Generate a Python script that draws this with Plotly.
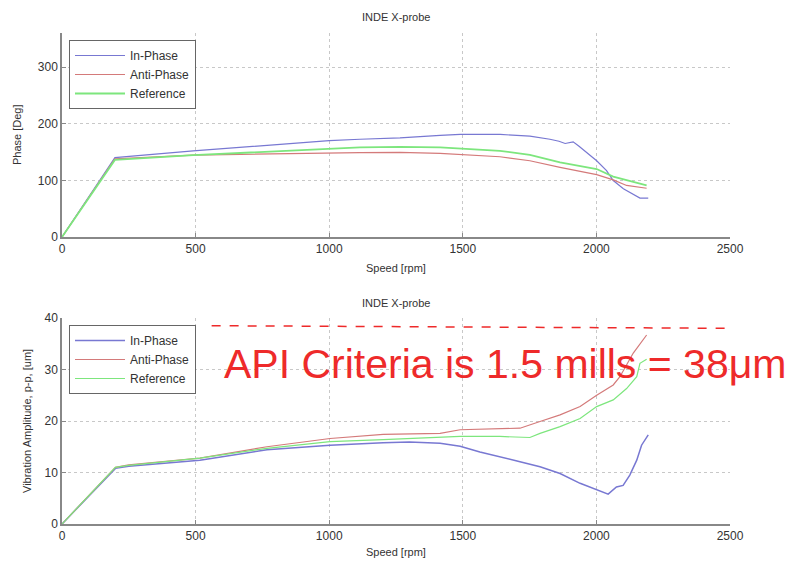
import plotly.graph_objects as go

# ---------------- data ----------------
speed_in_top = [0, 100, 198, 491, 1000, 1115, 1265, 1415, 1490, 1640, 1751, 1826, 1860, 1883, 1913, 1935, 1963, 2001, 2038, 2063, 2101, 2138, 2163, 2194]
phase_in = [0, 70, 140, 152, 170, 172.5, 175, 179.5, 181, 181, 178, 172.5, 169, 165, 168, 160, 149, 134.6, 117, 99.6, 85, 75, 68.7, 68.7]

speed_anti_top = [0, 100, 198, 491, 1000, 1115, 1265, 1415, 1639, 1751, 1864, 2001, 2063, 2113, 2188]
phase_anti = [0, 70, 138, 144.5, 149, 149, 149.5, 147.4, 141.6, 134.6, 123, 110, 100.8, 91, 86]

speed_ref_top = [0, 100, 198, 491, 1000, 1115, 1265, 1415, 1639, 1751, 1864, 2001, 2063, 2113, 2163, 2188]
phase_ref = [0, 68, 136, 144.5, 155, 158, 159, 158, 152, 145, 131.6, 120, 106.6, 100.8, 93.8, 91]

speed_in_bot = [0, 100, 200, 250, 516, 767, 1003, 1202, 1300, 1415, 1490, 1564, 1639, 1714, 1789, 1864, 1939, 2001, 2044, 2075, 2100, 2125, 2151, 2169, 2194]
amp_in = [0, 5.5, 10.8, 11.2, 12.4, 14.4, 15.3, 15.8, 15.9, 15.7, 15.1, 14.0, 13.1, 12.1, 11.1, 9.8, 7.9, 6.6, 5.8, 7.2, 7.5, 9.5, 12.4, 15.3, 17.3]

speed_anti_bot = [0, 100, 200, 250, 516, 767, 1003, 1202, 1415, 1490, 1714, 1789, 1864, 1939, 2001, 2063, 2088, 2138, 2188]
amp_anti = [0, 5.6, 11.0, 11.5, 12.8, 15.0, 16.6, 17.4, 17.6, 18.3, 18.6, 19.9, 21.2, 22.8, 25.0, 27.0, 28.6, 33.2, 36.7]

speed_ref_bot = [0, 100, 200, 250, 516, 767, 1003, 1202, 1415, 1490, 1639, 1751, 1789, 1864, 1939, 2001, 2063, 2113, 2151, 2163, 2188]
amp_ref = [0, 5.6, 11.0, 11.4, 12.8, 14.7, 16.0, 16.4, 16.8, 17.0, 17.0, 16.8, 17.6, 18.9, 20.5, 22.8, 24.1, 26.3, 28.6, 31.2, 32.0]

api_x = [560, 2500]
api_y = [38.5, 38.0]

x_ticks = [0, 500, 1000, 1500, 2000, 2500]
top_y_ticks = [0, 100, 200, 300]
bot_y_ticks = [0, 10, 20, 30, 40]

# ---------------- styles ----------------
BLUE = "#7878d2"
RED = "#d47a7a"
GREEN = "#7de67d"
FONT = "Liberation Sans, Arial, sans-serif"

fig = go.Figure()

fig.add_trace(go.Scatter(x=speed_in_top, y=phase_in, mode="lines", name="In-Phase",
                         line=dict(color=BLUE, width=1.2), xaxis="x", yaxis="y", legend="legend"))
fig.add_trace(go.Scatter(x=speed_anti_top, y=phase_anti, mode="lines", name="Anti-Phase",
                         line=dict(color=RED, width=1.2), xaxis="x", yaxis="y", legend="legend"))
fig.add_trace(go.Scatter(x=speed_ref_top, y=phase_ref, mode="lines", name="Reference",
                         line=dict(color=GREEN, width=1.8), xaxis="x", yaxis="y", legend="legend"))

fig.add_trace(go.Scatter(x=speed_in_bot, y=amp_in, mode="lines", name="In-Phase",
                         line=dict(color=BLUE, width=1.5), xaxis="x2", yaxis="y2", legend="legend2"))
fig.add_trace(go.Scatter(x=speed_anti_bot, y=amp_anti, mode="lines", name="Anti-Phase",
                         line=dict(color=RED, width=1.2), xaxis="x2", yaxis="y2", legend="legend2"))
fig.add_trace(go.Scatter(x=speed_ref_bot, y=amp_ref, mode="lines", name="Reference",
                         line=dict(color=GREEN, width=1.2), xaxis="x2", yaxis="y2", legend="legend2"))

fig.add_trace(go.Scatter(x=api_x, y=api_y, mode="lines", showlegend=False,
                         line=dict(color="#ee2a2a", width=1.5, dash="dash"), xaxis="x2", yaxis="y2"))

W, H = 788, 563
xdom = [62 / W, 730 / W]
ydom_top = [1 - 237 / H, 1 - 33 / H]
ydom_bot = [1 - 524 / H, 1 - 318 / H]

axis_common = dict(showline=True, linecolor="#888888", linewidth=1.5, mirror=False,
                   showgrid=True, gridcolor="#c8c8c8", griddash="dot", gridwidth=1,
                   ticks="inside", ticklen=4, tickcolor="#888888",
                   tickfont=dict(family=FONT, size=12, color="#333333"), zeroline=False,
                   automargin=False)

legend_common = dict(xanchor="left", yanchor="top", bgcolor="white", bordercolor="#666666",
                     borderwidth=1, itemwidth=50,
                     font=dict(family=FONT, size=12, color="#333333"), tracegroupgap=0)

fig.update_layout(
    width=W, height=H, autosize=False,
    margin=dict(l=0, r=0, t=0, b=0, pad=0, autoexpand=False),
    paper_bgcolor="white", plot_bgcolor="white",
    font=dict(family=FONT, color="#333333"),
    xaxis=dict(domain=xdom, range=[0, 2500], tickvals=x_ticks, anchor="y", **axis_common),
    yaxis=dict(domain=ydom_top, range=[0, 360], tickvals=top_y_ticks, anchor="x", **axis_common),
    xaxis2=dict(domain=xdom, range=[0, 2500], tickvals=x_ticks, anchor="y2", **axis_common),
    yaxis2=dict(domain=ydom_bot, range=[0, 40], tickvals=bot_y_ticks, anchor="x2", **axis_common),
    legend=dict(x=69 / W, y=1 - 40 / H, **legend_common),
    legend2=dict(x=69 / W, y=1 - 325 / H, **legend_common),
    showlegend=True,
)

def label(text, px, py, size=11, angle=0, color="#333333", xanchor="center"):
    return dict(text=text, x=px / W, y=1 - py / H, xref="paper", yref="paper",
                xanchor=xanchor, yanchor="middle", showarrow=False, textangle=angle,
                font=dict(family=FONT, size=size, color=color))

ann = [
    label("INDE X-probe", 396, 17),
    label("INDE X-probe", 396, 303),
    label("Speed [rpm]", 396, 268),
    label("Speed [rpm]", 396, 552),
    label("Phase [Deg]", 17, 135, angle=-90),
    label("Vibration Amplitude, p-p, [um]", 27, 421, angle=-90),
    label("API Criteria is 1.5 mills = 38μm", 222, 364, size=41, color="#ee2a2a", xanchor="left"),
]
fig.update_layout(annotations=ann)

fig.write_html("out.html")
